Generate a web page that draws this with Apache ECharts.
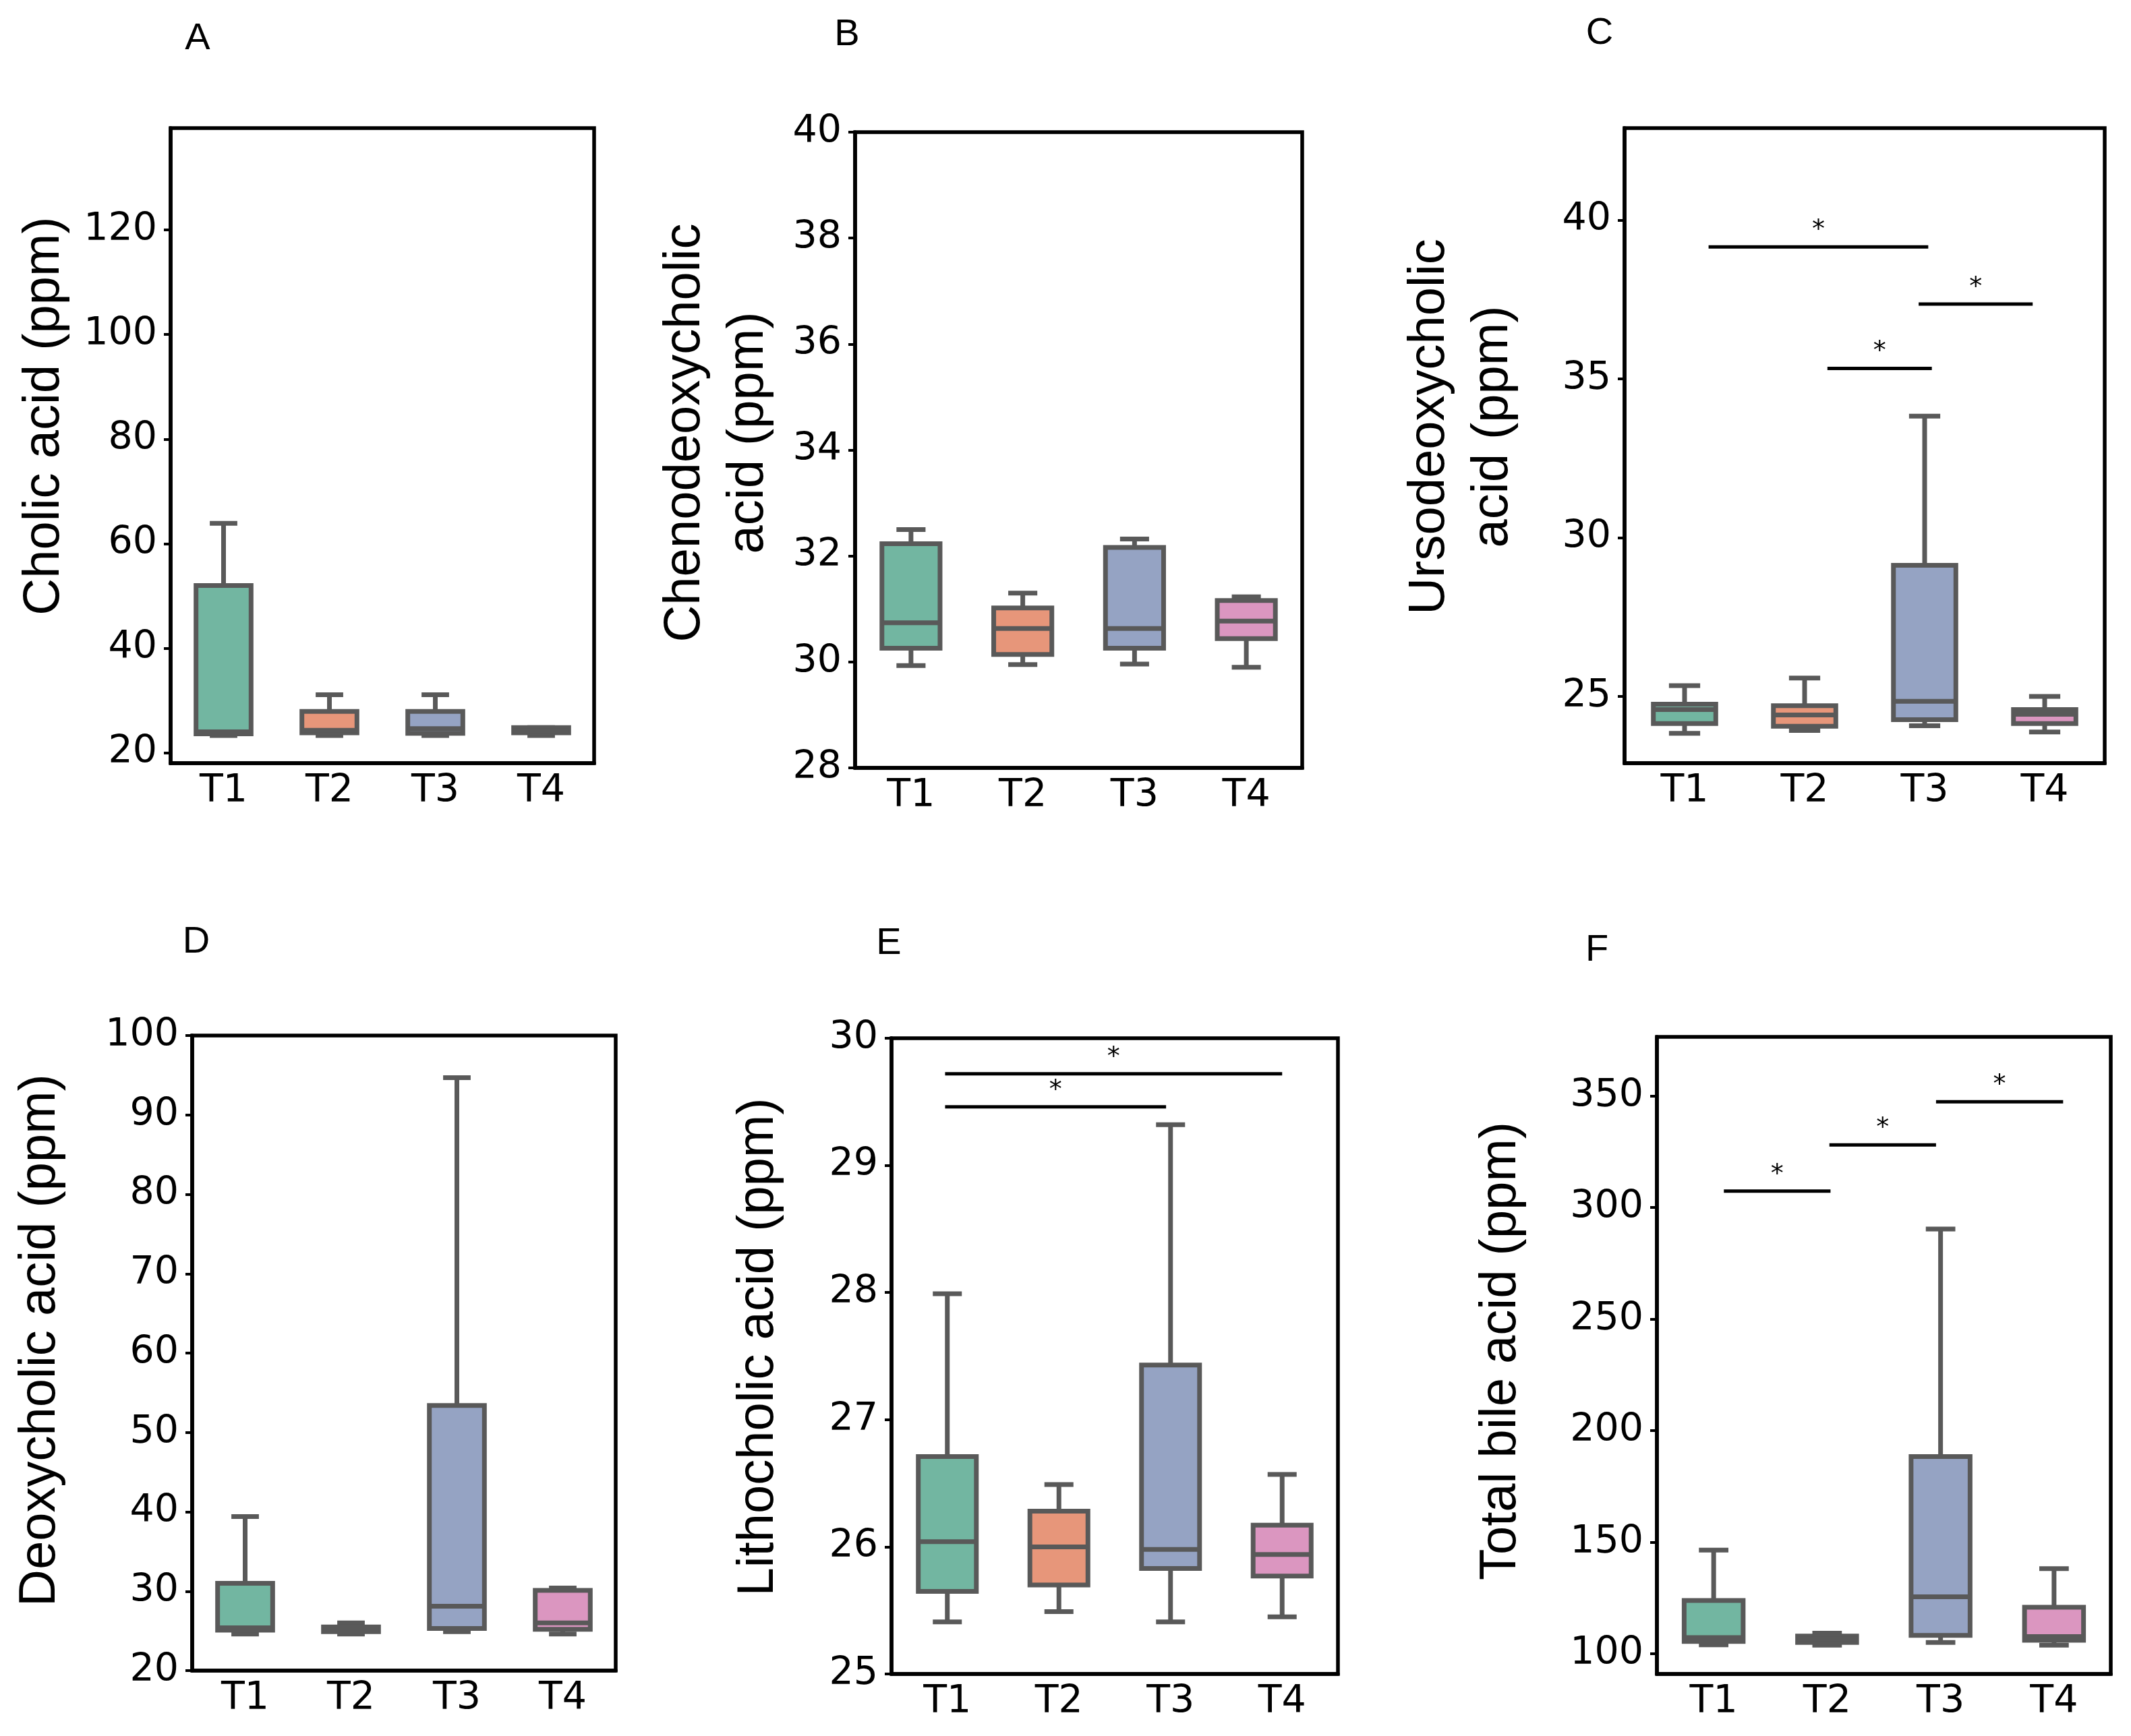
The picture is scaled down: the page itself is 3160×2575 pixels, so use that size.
<!DOCTYPE html>
<html>
<head>
<meta charset="utf-8">
<script src="https://cdn.jsdelivr.net/npm/echarts@6/dist/echarts.min.js"></script>
<style>
html, body { margin: 0; padding: 0; background: #fff; }
#main_chart { width: 3160px; height: 2575px; }
</style>
</head>
<body>
<div id="main_chart"></div>
<script>
// groups on the x axis
const groups = ['T1', 'T2', 'T3', 'T4'];

// box values per group: [min, Q1, median, Q3, max]
const cholic = [[23.3, 23.6, 24.0, 52.0, 63.9], [23.3, 23.8, 24.3, 27.9, 31.1], [23.3, 23.7, 24.6, 27.9, 31.1], [23.3, 23.8, 24.2, 24.8, 24.8]];
const chenodeoxycholic = [[29.93, 30.26, 30.74, 32.23, 32.5], [29.95, 30.14, 30.63, 31.02, 31.3], [29.96, 30.26, 30.63, 32.16, 32.32], [29.9, 30.44, 30.77, 31.16, 31.23]];
const ursodeoxycholic = [[23.84, 24.15, 24.59, 24.76, 25.34], [23.93, 24.06, 24.42, 24.71, 25.58], [24.08, 24.27, 24.85, 29.13, 33.83], [23.88, 24.15, 24.44, 24.59, 25.0]];
const deoxycholic = [[24.6, 25.1, 25.4, 31.0, 39.4], [24.6, 24.9, 25.2, 25.5, 26.0], [24.9, 25.3, 28.1, 53.4, 94.7], [24.6, 25.2, 26.0, 30.1, 30.4]];
const lithocholic = [[25.41, 25.65, 26.04, 26.71, 27.99], [25.49, 25.7, 26.0, 26.28, 26.49], [25.41, 25.83, 25.98, 27.43, 29.32], [25.45, 25.77, 25.94, 26.17, 26.57]];
const totalBile = [[104.1, 105.6, 107.3, 123.9, 146.5], [103.9, 105.1, 106.8, 108.0, 109.3], [105.1, 108.3, 125.6, 188.4, 290.4], [103.9, 106.1, 107.8, 120.9, 138.2]];

// significance bars: [from group, to group, height]
const udcaSig = [[0.2, 2.03, 39.16], [1.19, 2.06, 35.33], [1.95, 2.9, 37.36]];
const lcaSig = [[-0.02, 3.0, 29.72], [-0.02, 1.96, 29.46]];
const tbaSig = [[0.09, 1.03, 307.4], [1.02, 1.96, 328.1], [1.96, 3.08, 347.4]];

// y tick labels
const cholicTicks = [20, 40, 60, 80, 100, 120];
const udcaTicks = [25, 30, 35, 40];
const tbaTicks = [100, 150, 200, 250, 300, 350];

const colors = ['#72b6a1', '#e7967a', '#95a3c3', '#db96c0'];
const gray = '#595959';
const tickFont = 'DejaVu Sans';
const titleFont = '"Liberation Sans", Arial, sans-serif';

const panels = [
    { letter: 'A', lx: 293, ly: 58, title: 'Cholic acid (ppm)', tx: 66, ty: 617,
      grid: { left: 253, top: 190, width: 628, height: 942 }, min: 18, max: 139.5, ticks: cholicTicks, data: cholic, sig: [] },
    { letter: 'B', lx: 1256, ly: 52, title: 'Chenodeoxycholic\nacid (ppm)', tx: 1063, ty: 642,
      grid: { left: 1268, top: 196, width: 663, height: 943 }, min: 28, max: 40, interval: 2, data: chenodeoxycholic, sig: [] },
    { letter: 'C', lx: 2372, ly: 50, title: 'Ursodeoxycholic\nacid (ppm)', tx: 2167, ty: 633,
      grid: { left: 2409, top: 190, width: 712, height: 942 }, min: 22.9, max: 42.9, ticks: udcaTicks, data: ursodeoxycholic, sig: udcaSig },
    { letter: 'D', lx: 291, ly: 1398, title: 'Deoxycholic acid (ppm)', tx: 60, ty: 1988,
      grid: { left: 285, top: 1536, width: 628, height: 942 }, min: 20, max: 100, interval: 10, data: deoxycholic, sig: [] },
    { letter: 'E', lx: 1318, ly: 1400, title: 'Lithocholic acid (ppm)', tx: 1125, ty: 1998,
      grid: { left: 1322, top: 1540, width: 662, height: 943 }, min: 25, max: 30, interval: 1, data: lithocholic, sig: lcaSig },
    { letter: 'F', lx: 2368, ly: 1410, title: 'Total bile acid (ppm)', tx: 2226, ty: 2004,
      grid: { left: 2457, top: 1538, width: 673, height: 945 }, min: 91, max: 376.5, ticks: tbaTicks, data: totalBile, sig: tbaSig }
];

// draw one box with half-width whisker caps
function renderBox(params, api) {
    const i = api.value(0);
    const p = [1, 2, 3, 4, 5].map(function (d) { return api.coord([i, api.value(d)]); });
    const cx = p[0][0];
    const w = api.size([1, 0])[0] * 0.52;
    const c = w / 4;
    const line = { stroke: gray, lineWidth: 7 };
    return {
        type: 'group',
        children: [
            { type: 'line', shape: { x1: cx, y1: p[0][1], x2: cx, y2: p[1][1] }, style: line },
            { type: 'line', shape: { x1: cx, y1: p[3][1], x2: cx, y2: p[4][1] }, style: line },
            { type: 'line', shape: { x1: cx - c, y1: p[0][1], x2: cx + c, y2: p[0][1] }, style: line },
            { type: 'line', shape: { x1: cx - c, y1: p[4][1], x2: cx + c, y2: p[4][1] }, style: line },
            { type: 'rect', shape: { x: cx - w / 2, y: p[3][1], width: w, height: p[1][1] - p[3][1] },
              style: { fill: colors[i], stroke: gray, lineWidth: 7 } },
            { type: 'line', shape: { x1: cx - w / 2, y1: p[2][1], x2: cx + w / 2, y2: p[2][1] }, style: line }
        ]
    };
}

// significance bar with a star above it
function renderSig(params, api) {
    const a = api.coord([api.value(0), api.value(2)]);
    const b = api.coord([api.value(1), api.value(2)]);
    return {
        type: 'group',
        children: [
            { type: 'line', shape: { x1: a[0], y1: a[1], x2: b[0], y2: b[1] }, style: { stroke: '#000', lineWidth: 5 } },
            { type: 'text', x: (a[0] + b[0]) / 2, y: a[1] - 24,
              style: { text: '*', font: '38px ' + tickFont, fill: '#000', align: 'center', verticalAlign: 'middle',
                       textAlign: 'center', textVerticalAlign: 'middle' } }
        ]
    };
}

const grids = [], xAxes = [], yAxes = [], series = [], graphics = [];

panels.forEach(function (pn, k) {
    grids.push(Object.assign({ show: true, borderColor: '#000', borderWidth: 5.5, backgroundColor: 'transparent' }, pn.grid));
    xAxes.push({
        type: 'category', gridIndex: k, data: groups,
        axisLine: { onZero: false, lineStyle: { color: '#000', width: 5.5 } },
        axisTick: { alignWithLabel: true, length: 10, lineStyle: { color: '#000', width: 4 } },
        axisLabel: { color: '#000', fontFamily: tickFont, fontSize: 57, margin: 14 }
    });
    xAxes.push({ type: 'value', gridIndex: k, min: -0.5, max: 3.5, show: false, axisLine: { onZero: false } });
    const y = {
        type: 'value', gridIndex: k, min: pn.min, max: pn.max,
        axisLine: { show: true, onZero: false, lineStyle: { color: '#000', width: 5.5 } },
        axisTick: { show: true, length: 10, lineStyle: { color: '#000', width: 4 } },
        axisLabel: { color: '#000', fontFamily: tickFont, fontSize: 57, margin: 20 },
        splitLine: { show: false }
    };
    if (pn.ticks) {
        y.axisLabel.customValues = pn.ticks;
        y.axisTick.customValues = pn.ticks;
    } else {
        y.interval = pn.interval;
    }
    yAxes.push(y);

    series.push({
        type: 'custom', xAxisIndex: 2 * k, yAxisIndex: k,
        data: pn.data.map(function (v, i) { return [i].concat(v); }),
        encode: { x: 0, y: [1, 2, 3, 4, 5] },
        renderItem: renderBox, clip: false
    });
    if (pn.sig.length) {
        series.push({
            type: 'custom', xAxisIndex: 2 * k + 1, yAxisIndex: k,
            data: pn.sig, encode: { x: [0, 1], y: 2 },
            renderItem: renderSig, clip: false
        });
    }

    graphics.push({
        type: 'text', x: pn.lx, y: pn.ly,
        style: { text: pn.letter, font: '56px ' + titleFont, fill: '#000',
                 align: 'center', verticalAlign: 'middle', textAlign: 'center', textVerticalAlign: 'middle' }
    });
    graphics.push({
        type: 'text', x: pn.tx, y: pn.ty, rotation: Math.PI / 2,
        style: { text: pn.title, font: '76px ' + titleFont, fill: '#000', lineHeight: 94,
                 align: 'center', verticalAlign: 'middle', textAlign: 'center', textVerticalAlign: 'middle' }
    });
});

const myChart = echarts.init(document.getElementById('main_chart'));
myChart.setOption({
    backgroundColor: '#fff',
    animation: false,
    grid: grids,
    xAxis: xAxes,
    yAxis: yAxes,
    series: series,
    graphic: graphics
});
window.onresize = function () {
    myChart.resize();
};
</script>
</body>
</html>
